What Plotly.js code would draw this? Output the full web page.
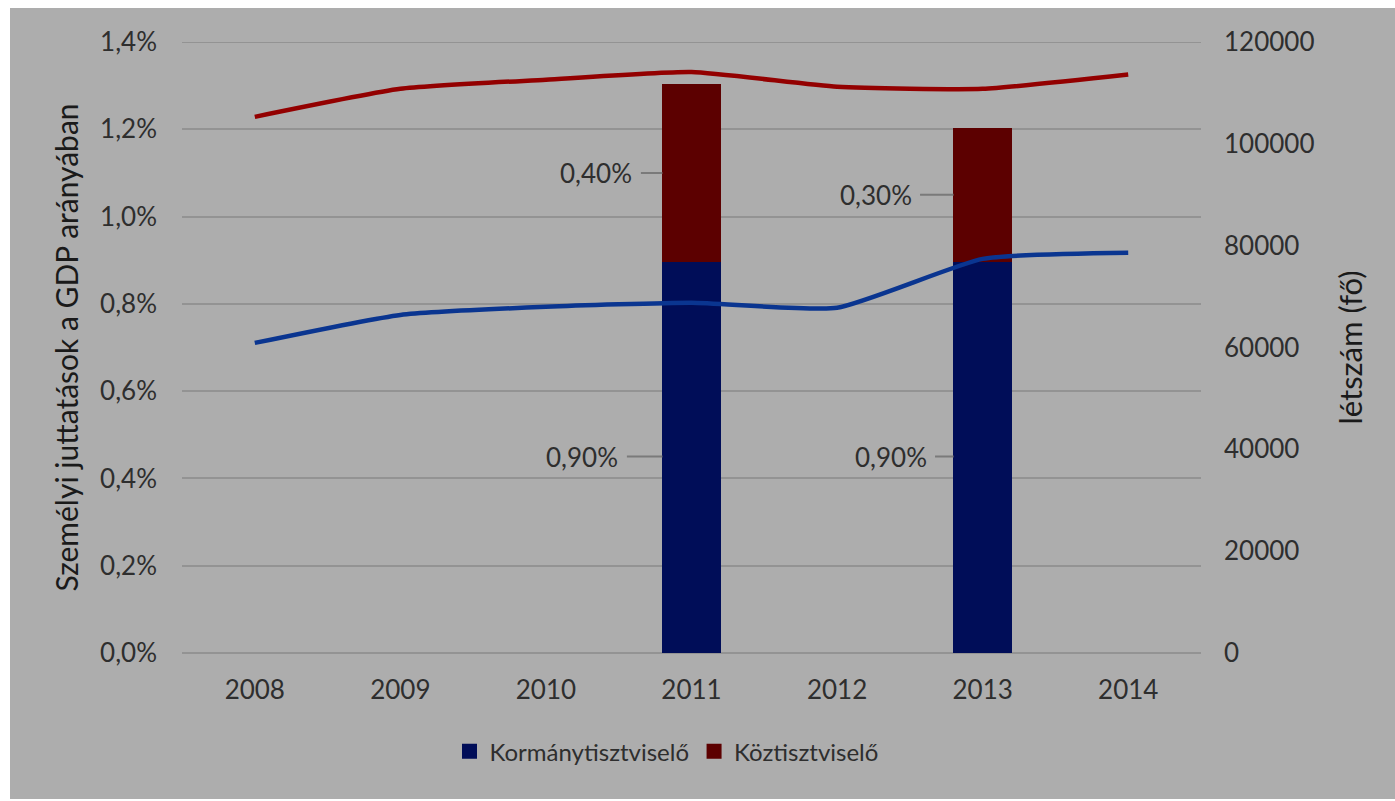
<!DOCTYPE html>
<html>
<head>
<meta charset="utf-8">
<script src="https://cdn.plot.ly/plotly-3.0.1.min.js"></script>
<style>
  html, body { margin: 0; padding: 0; background: #ffffff; }
  #chart { position: absolute; left: 10px; top: 8px; width: 1385px; height: 791px; }
</style>
</head>
<body>
<div id="chart"></div>
<script>
// ---- data ----
const years = ['2008', '2009', '2010', '2011', '2012', '2013', '2014'];
// Személyi juttatások a GDP arányában (%), stacked bars
const kormanyPct = [null, null, null, 0.90, null, 0.90, null];
const koztPct    = [null, null, null, 0.40, null, 0.30, null];
// Létszám (fő), lines on the right axis
const kormanyLetszam = [60900, 66400, 68000, 68800, 67800, 77400, 78600];
const koztLetszam    = [105300, 110800, 112600, 114100, 111200, 110800, 113600];
const leftTicks  = [0, 0.2, 0.4, 0.6, 0.8, 1.0, 1.2, 1.4];
const rightTicks = [0, 20000, 40000, 60000, 80000, 100000, 120000];

// ---- style ----
const BG = '#adadad';
const GRID = '#939393';
const TXT = '#2e2e2e';
const FONT = 'Lato, "Liberation Sans", sans-serif';
const BAR_W = 0.38;
const blueBar = '#000d58';
const redBar = '#5c0000';
const blueLine = '#0a3590';
const redLine = '#930000';

const fmtPct = v => v.toFixed(2).replace('.', ',') + '%';
const fmtTick = v => v.toFixed(1).replace('.', ',') + '%';

const traces = [
  {
    type: 'bar', name: 'Kormánytisztviselő', x: years, y: kormanyPct,
    width: BAR_W, marker: { color: blueBar, line: { color: blueBar, width: 3 } }, yaxis: 'y', hoverinfo: 'skip'
  },
  {
    type: 'bar', name: 'Köztisztviselő', x: years, y: koztPct,
    width: BAR_W, marker: { color: redBar, line: { color: redBar, width: 3 } }, yaxis: 'y', hoverinfo: 'skip'
  },
  {
    type: 'scatter', mode: 'lines', name: 'Kormánytisztviselő létszám', x: years, y: kormanyLetszam,
    yaxis: 'y2', showlegend: false, line: { color: blueLine, width: 4.5, shape: 'spline', smoothing: 0.5 }
  },
  {
    type: 'scatter', mode: 'lines', name: 'Köztisztviselő létszám', x: years, y: koztLetszam,
    yaxis: 'y2', showlegend: false, line: { color: redLine, width: 4.5, shape: 'spline', smoothing: 0.5 }
  }
];

// data labels with leader lines, to the left of each bar segment
const labelShift = { '3-0': -80, '3-1': -66, '5-0': -63, '5-1': -78 };
const annotations = [];
years.forEach((yr, i) => {
  let base = 0;
  [kormanyPct, koztPct].forEach((series, s) => {
    const v = series[i];
    if (v == null) return;
    annotations.push({
      x: i - 0.2, y: base + v / 2, xref: 'x', yref: 'y',
      text: fmtPct(v), showarrow: true, arrowhead: 0, arrowwidth: 2, arrowcolor: '#7a7a7a',
      ax: labelShift[i + '-' + s], ay: 0, standoff: 0, borderpad: 8,
      font: { family: FONT, size: 26, color: TXT }
    });
    base += v;
  });
});

const layout = {
  width: 1385, height: 791,
  paper_bgcolor: BG, plot_bgcolor: BG,
  margin: { l: 172, r: 194, t: 34, b: 146 },
  separators: ', ',
  barmode: 'stack',
  showlegend: true,
  font: { family: FONT, size: 26, color: TXT },
  xaxis: {
    type: 'category', range: [-0.5, 6.5], showgrid: false, showline: false, zeroline: false,
    ticks: '', ticklabelstandoff: 19, tickfont: { family: FONT, size: 26, color: TXT }
  },
  yaxis: {
    range: [0, 1.4], tickmode: 'array', tickvals: leftTicks, ticktext: leftTicks.map(fmtTick),
    showgrid: true, gridcolor: GRID, gridwidth: 2, zeroline: true, zerolinecolor: GRID, zerolinewidth: 2,
    showline: false, ticks: '', ticklabelstandoff: 24,
    tickfont: { family: FONT, size: 26, color: TXT },
    title: { text: 'Személyi juttatások a GDP arányában', standoff: 12,
             font: { family: FONT, size: 30, color: '#1a1a1a' } }
  },
  yaxis2: {
    overlaying: 'y', side: 'right', range: [0, 120000], tickmode: 'array', tickvals: rightTicks,
    ticktext: rightTicks.map(v => String(v)),
    showgrid: false, zeroline: false, showline: false, ticks: '', ticklabelstandoff: 22,
    tickfont: { family: FONT, size: 26, color: TXT },
    title: { text: 'létszám (fő)', standoff: 26,
             font: { family: FONT, size: 31, color: '#1a1a1a' } }
  },
  shapes: [
    { type: 'line', xref: 'paper', yref: 'y', x0: 0, x1: 1, y0: leftTicks[leftTicks.length - 1],
      y1: leftTicks[leftTicks.length - 1], line: { color: GRID, width: 2 }, layer: 'below' }
  ],
  legend: {
    orientation: 'h', xref: 'container', yref: 'container', x: 0.474, y: 0.06,
    xanchor: 'center', yanchor: 'middle', bgcolor: 'rgba(0,0,0,0)',
    font: { family: FONT, size: 24, color: TXT }, traceorder: 'normal', itemwidth: 30
  },
  annotations: annotations
};

Plotly.newPlot('chart', traces, layout, { displayModeBar: false, staticPlot: true });
</script>
</body>
</html>
